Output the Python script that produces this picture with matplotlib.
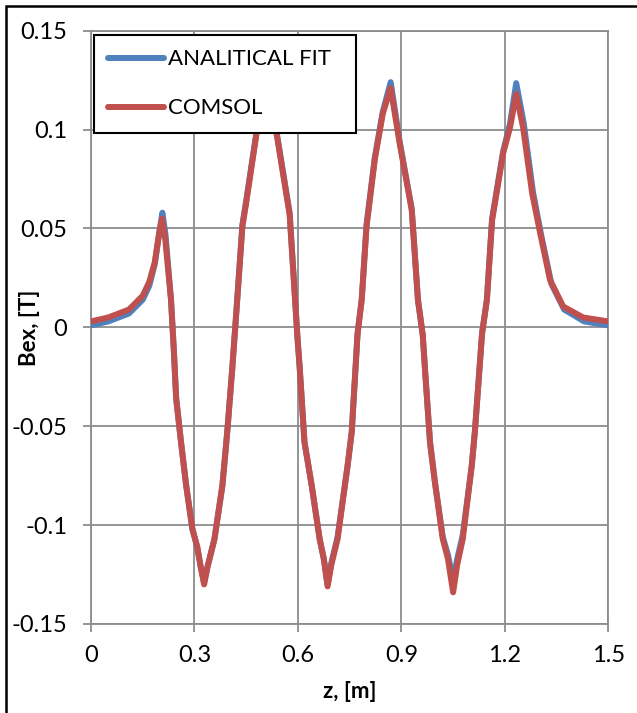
import numpy as np
import matplotlib
matplotlib.use('Agg')
import matplotlib.pyplot as plt
from matplotlib.patches import Rectangle

# COMSOL curve, values
z_comsol = [0.0, 0.05, 0.11, 0.15, 0.169, 0.185, 0.198, 0.206, 0.215, 0.232, 0.24, 0.247,
            0.261, 0.276, 0.294, 0.308, 0.318, 0.328, 0.338, 0.358, 0.381, 0.395, 0.41,
            0.424, 0.439, 0.45, 0.48, 0.495, 0.51, 0.525, 0.538, 0.576, 0.599, 0.605,
            0.619, 0.64, 0.663, 0.675, 0.686, 0.697, 0.715, 0.744, 0.756, 0.773, 0.785,
            0.799, 0.823, 0.846, 0.869, 0.882, 0.895, 0.93, 0.948, 0.962, 0.968, 0.983,
            0.997, 1.02, 1.035, 1.05, 1.062, 1.078, 1.104, 1.113, 1.134, 1.148, 1.163,
            1.195, 1.215, 1.233, 1.253, 1.279, 1.302, 1.331, 1.369, 1.427, 1.5]
b_comsol = [0.003, 0.005, 0.009, 0.016, 0.023, 0.033, 0.048, 0.055, 0.045, 0.014, -0.011, -0.036,
            -0.058, -0.080, -0.102, -0.111, -0.121, -0.130, -0.121, -0.107, -0.080, -0.053, -0.020,
            0.014, 0.051, 0.063, 0.098, 0.112, 0.120, 0.112, 0.098, 0.057, -0.006, -0.020,
            -0.058, -0.080, -0.107, -0.117, -0.131, -0.120, -0.107, -0.070, -0.053, -0.003, 0.014,
            0.051, 0.085, 0.108, 0.121, 0.107, 0.093, 0.0595, 0.014, -0.004, -0.020, -0.058,
            -0.078, -0.107, -0.117, -0.134, -0.120, -0.107, -0.070, -0.053, -0.003, 0.014, 0.054,
            0.088, 0.101, 0.118, 0.101, 0.068, 0.048, 0.024, 0.0106, 0.005, 0.003]

# analytical fit, values
z_fit = [0.0, 0.05, 0.11, 0.15, 0.169, 0.185, 0.198, 0.207, 0.216, 0.232, 0.24, 0.247,
         0.261, 0.276, 0.294, 0.308, 0.318, 0.328, 0.338, 0.358, 0.381, 0.395, 0.41,
         0.424, 0.439, 0.45, 0.48, 0.495, 0.51, 0.525, 0.538, 0.576, 0.599, 0.605,
         0.619, 0.64, 0.663, 0.675, 0.686, 0.697, 0.715, 0.744, 0.756, 0.773, 0.785,
         0.799, 0.823, 0.846, 0.869, 0.882, 0.895, 0.93, 0.948, 0.962, 0.968, 0.983,
         0.997, 1.02, 1.035, 1.05, 1.062, 1.078, 1.104, 1.113, 1.134, 1.148, 1.163,
         1.195, 1.215, 1.233, 1.255, 1.282, 1.305, 1.335, 1.372, 1.43, 1.5]
b_fit = [0.001, 0.003, 0.007, 0.014, 0.021, 0.032, 0.048, 0.058, 0.047, 0.014, -0.011, -0.036,
         -0.058, -0.080, -0.102, -0.111, -0.121, -0.129, -0.121, -0.107, -0.080, -0.053, -0.020,
         0.014, 0.052, 0.064, 0.099, 0.113, 0.121, 0.113, 0.099, 0.058, -0.006, -0.020,
         -0.058, -0.080, -0.107, -0.117, -0.130, -0.119, -0.106, -0.070, -0.053, -0.003, 0.014,
         0.052, 0.086, 0.109, 0.124, 0.109, 0.094, 0.060, 0.014, -0.004, -0.020, -0.058,
         -0.078, -0.106, -0.115, -0.128, -0.117, -0.105, -0.070, -0.053, -0.003, 0.014, 0.055,
         0.089, 0.103, 0.1235, 0.103, 0.068, 0.047, 0.022, 0.009, 0.003, 0.001]

x_ticks = [0, 0.3, 0.6, 0.9, 1.2, 1.5]
x_labels = ['0', '0.3', '0.6', '0.9', '1.2', '1.5']
y_ticks = [-0.15, -0.1, -0.05, 0, 0.05, 0.1, 0.15]
y_labels = ['-0.15', '-0.1', '-0.05', '0', '0.05', '0.1', '0.15']

plt.rcParams['font.family'] = ['Lato', 'DejaVu Sans']

fig = plt.figure(figsize=(6.37, 7.13), dpi=100)
ax_h = 593.3
ax = fig.add_axes([91 / 637, 1 - 624 / 713, 517.3 / 637, ax_h / 713])

grid_col = '#8c8c8c'
ax.plot(z_fit, b_fit, color='#4F81BD', lw=4.3, solid_joinstyle='round',
        solid_capstyle='round', label='ANALITICAL FIT', zorder=3)
ax.plot(z_comsol, b_comsol, color='#C0504D', lw=4.3, solid_joinstyle='round',
        solid_capstyle='round', label='COMSOL', zorder=4)

ax.set_xlim(0, 1.5)
ax.set_ylim(-0.15, 0.15)
ax.set_xticks(x_ticks)
ax.set_xticklabels(x_labels)
ax.set_yticks(y_ticks)
ax.set_yticklabels(y_labels)
ax.grid(True, color=grid_col, lw=1.3)
ax.set_axisbelow(True)
for s in ax.spines.values():
    s.set_color(grid_col)
    s.set_linewidth(1.3)
ax.tick_params(length=6, width=1.3, color=grid_col, labelsize=17)
ax.tick_params(axis='y', pad=11)
ax.tick_params(axis='x', pad=9)

ax.set_xlabel('z, [m]', fontsize=16, fontweight='bold', va='center')
ax.xaxis.set_label_coords(0.5, (624 - 691) / ax_h)
ax.set_ylabel('Bex, [T]', fontsize=16, fontweight='bold', va='center')
ax.yaxis.set_label_coords((29 - 91) / 517.3, 0.5)

leg = ax.legend(loc='upper left',
                bbox_to_anchor=(3 / 517.3, (624 - 130) / ax_h, 262 / 517.3, 95 / ax_h),
                mode='expand', frameon=True, fancybox=False, fontsize=16,
                handlelength=2.5, handletextpad=0.2, labelspacing=1.3,
                borderpad=0.65, borderaxespad=0)
leg.get_frame().set_edgecolor('black')
leg.get_frame().set_linewidth(1.5)
leg.get_frame().set_alpha(1)

# outer chart border, cut at right and bottom like the original
fig.patches.append(Rectangle((6.5 / 637, -0.1), 1.2, 1.1 - 6.5 / 713, transform=fig.transFigure,
                             fill=False, edgecolor='black', lw=1.8))

fig.savefig('out.png', dpi=100)
